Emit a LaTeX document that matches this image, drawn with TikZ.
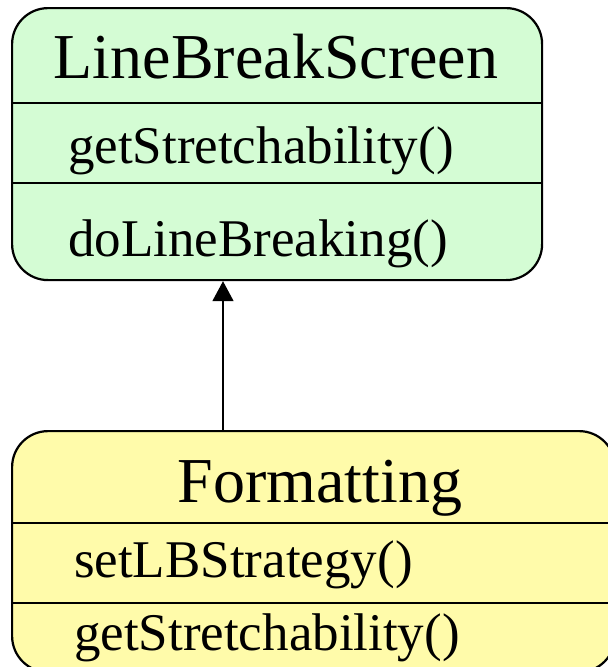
\documentclass[tikz,border=0pt]{standalone}
\usepackage{fontspec}
\setmainfont{Liberation Serif}
\usetikzlibrary{arrows.meta}
\definecolor{classgreen}{HTML}{D4FCD4}
\definecolor{classyellow}{HTML}{FFFBAA}
\begin{document}
\begin{tikzpicture}[x=1pt,y=-1pt,line width=2.2pt,
  classbox/.style={draw=black,rounded corners=36pt,anchor=north west,inner sep=0pt},
  titletext/.style={anchor=base,inner sep=0pt,font=\fontsize{64}{70}\selectfont},
  optext/.style={anchor=base west,inner sep=0pt,font=\fontsize{53}{60}\selectfont},
  inherit/.style={-{Triangle[width=21pt,length=20pt]},line width=1.8pt}]
\useasboundingbox (0,0) rectangle (608,667);
\clip (0,0) rectangle (608,667);

% superclass
\node[classbox,fill=classgreen,minimum width=530pt,minimum height=272pt] (lbs) at (11,7) {};
\draw (lbs.west |- 0,103) -- (lbs.east |- 0,103);
\draw (lbs.west |- 0,183) -- (lbs.east |- 0,183);
\node[titletext] (lbsname) at (276,78) {LineBreakScreen};
\node[optext] (lbsop1) at (67,163) {getStretchability()};
\node[optext] (lbsop2) at (67,256) {doLineBreaking()};

% subclass
\node[classbox,fill=classyellow,minimum width=603pt,minimum height=241pt] (fmt) at (11,430) {};
\draw (fmt.west |- 0,523) -- (fmt.east |- 0,523);
\draw (fmt.west |- 0,603) -- (fmt.east |- 0,603);
\node[titletext] (fmtname) at (320,502) {Formatting};
\node[optext] (fmtop1) at (73,577) {setLBStrategy()};
\node[optext] (fmtop2) at (73,650) {getStretchability()};

% generalisation
\coordinate (gx) at (223,0);
\draw[inherit] (gx |- fmt.north) -- (gx |- lbs.south);
\end{tikzpicture}
\end{document}
